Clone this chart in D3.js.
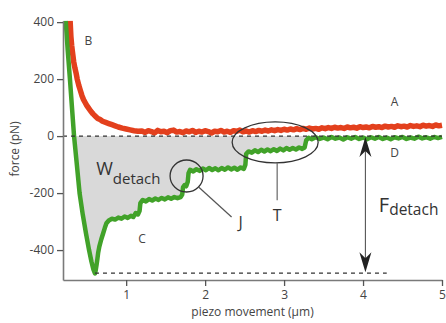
<!DOCTYPE html>
<html><head><meta charset="utf-8">
<script src="https://cdn.jsdelivr.net/npm/d3@7/dist/d3.min.js"></script>
<style>
html,body{margin:0;padding:0;background:#fff;}
svg{display:block;font-family:"Open Sans",Lato,sans-serif;}
</style></head>
<body>
<script>
// ---- data (piezo movement in µm, force in pN) ----
const xTicks = [1, 2, 3, 4, 5];
const yTicks = [-400, -200, 0, 200, 400];
const xTitle = "piezo movement (\u03bcm)";
const yTitle = "force (pN)";

const approachRed = [
[0.29,405],[0.30,350],[0.31,318],[0.32,295],[0.335,262],[0.35,240],[0.365,222],[0.38,200],[0.40,178],[0.42,160],[0.44,142],[0.46,128],[0.48,118],[0.50,108],[0.52,100],[0.55,88],[0.58,78],[0.61,70],[0.64,62],[0.67,58],[0.70,52],[0.74,48],[0.78,44],[0.82,40],[0.86,36],[0.90,32],[0.95,28],[1.00,25],[1.05,22],[1.10,19],[1.15,17],
[1.20,18],[1.24,13],[1.28,19],[1.32,16],[1.36,11],[1.40,20],[1.44,15],[1.48,17],[1.52,12],[1.56,19],[1.60,21],[1.64,14],[1.68,16],[1.72,12],[1.76,18],[1.80,15],[1.84,20],[1.88,13],[1.92,17],[1.96,14],[2.00,19],[2.04,16],[2.08,11],[2.12,17],[2.16,15],[2.20,20],[2.24,14],[2.28,17],[2.32,13],[2.36,19],[2.40,17],[2.44,21],[2.48,15],[2.52,18],[2.56,14],[2.60,19],[2.64,16],[2.68,20],[2.72,17],[2.76,21],[2.80,18],[2.84,22],[2.88,19],[2.92,23],[2.96,20],[3.00,24],[3.04,21],[3.08,25],[3.12,22],[3.16,26],[3.20,23],[3.24,27],[3.28,24],[3.32,28],[3.36,25],[3.40,27],[3.44,24],[3.48,29],[3.52,26],[3.56,30],[3.60,27],[3.64,31],[3.68,28],[3.72,30],[3.76,27],[3.80,32],[3.84,29],[3.88,31],[3.92,28],[3.96,33],[4.00,30],[4.04,32],[4.08,29],[4.12,34],[4.16,31],[4.20,33],[4.24,30],[4.28,35],[4.32,32],[4.36,34],[4.40,31],[4.44,36],[4.48,33],[4.52,35],[4.56,32],[4.60,37],[4.64,34],[4.68,36],[4.72,33],[4.76,38],[4.80,35],[4.84,37],[4.88,34],[4.92,39],[4.96,36],[5.00,38]
];

const retractGreen = [
[0.234,405],[0.26,300],[0.289,196],[0.315,95],[0.34,0],[0.37,-85],[0.41,-200],[0.45,-275],[0.49,-340],[0.53,-400],[0.56,-440],[0.585,-468],[0.605,-482],[0.615,-470],[0.625,-452],[0.635,-432],[0.645,-410],[0.66,-388],[0.685,-362],[0.71,-340],[0.73,-322],[0.75,-306],[0.78,-296],[0.82,-290],[0.86,-293],[0.90,-286],[0.94,-290],[0.98,-282],[1.02,-287],[1.06,-280],[1.09,-284],[1.12,-270],[1.15,-275],[1.17,-262],[1.18,-235],[1.21,-224],[1.25,-229],[1.29,-221],[1.33,-226],[1.37,-219],[1.41,-224],[1.45,-217],[1.49,-222],[1.53,-215],[1.57,-220],[1.61,-214],[1.65,-218],[1.69,-214],[1.71,-205],[1.72,-180],[1.74,-172],[1.76,-176],[1.78,-160],[1.79,-130],[1.81,-118],[1.85,-124],[1.89,-116],[1.93,-122],[1.97,-114],[2.01,-120],[2.05,-112],[2.09,-119],[2.13,-113],[2.17,-120],[2.21,-112],[2.25,-118],[2.29,-110],[2.33,-117],[2.37,-111],[2.41,-118],[2.45,-110],[2.49,-115],[2.51,-100],[2.52,-62],[2.55,-54],[2.59,-58],[2.63,-50],[2.67,-56],[2.71,-48],[2.75,-54],[2.79,-47],[2.83,-53],[2.87,-46],[2.91,-52],[2.95,-44],[2.99,-50],[3.03,-42],[3.07,-48],[3.11,-42],[3.15,-47],[3.19,-40],[3.23,-45],[3.26,-40],[3.28,-15],[3.31,-6],[3.35,-11],[3.40,-4],[3.45,-10],[3.50,-5],[3.55,-11],[3.60,-3],[3.65,-9],[3.70,-5],[3.75,-12],[3.80,-4],[3.85,-9],[3.90,-3],[3.95,-10],[4.00,-5],[4.05,-11],[4.10,-4],[4.15,-9],[4.20,-3],[4.25,-10],[4.30,-5],[4.35,-11],[4.40,-4],[4.45,-8],[4.50,-3],[4.55,-10],[4.60,-5],[4.65,-9],[4.70,-2],[4.75,-8],[4.80,-4],[4.85,-9],[4.90,-3],[4.95,-7],[5.00,-3]
];

const fDetach = -481;         // minimum force (pN)
const fDetachX = 4.03;        // arrow position (µm)
const minX = 0.605;           // location of minimum
const fillEndX = 3.28;        // end of shaded work area

// ---- drawing ----
const W = 446, H = 323;
const svg = d3.select("body").append("svg").attr("width", W).attr("height", H);

const x = d3.scaleLinear().domain([0.2, 5.0]).range([63, 442]);
const y = d3.scaleLinear().domain([-505, 405]).range([280, 20.7]);

svg.append("defs").append("clipPath").attr("id", "plot")
  .append("rect").attr("x", x(0.2)).attr("y", y(405)).attr("width", x(5.0) - x(0.2) + 4).attr("height", y(-505) - y(405));

const plot = svg.append("g").attr("clip-path", "url(#plot)");

// shaded work of detachment
const fillData = retractGreen.filter(d => d[0] >= 0.34 && d[0] <= fillEndX);
plot.append("path")
  .datum(fillData)
  .attr("fill", "#d9d9d9")
  .attr("d", d3.area().x(d => x(d[0])).y0(y(0)).y1(d => y(Math.min(0, d[1]))));

const line = d3.line().x(d => x(d[0])).y(d => y(d[1]));
plot.append("path").datum(approachRed)
  .attr("fill", "none").attr("stroke", "#e3401d").attr("stroke-width", 5.5).attr("stroke-linejoin", "round")
  .attr("d", line);
plot.append("path").datum(retractGreen)
  .attr("fill", "none").attr("stroke", "#41a229").attr("stroke-width", 4.5).attr("stroke-linejoin", "round")
  .attr("d", line);

// dashed reference lines
svg.append("line").attr("x1", x(0.2)).attr("x2", x(5.0)).attr("y1", y(0)).attr("y2", y(0))
  .attr("stroke", "#333").attr("stroke-width", 1.3).attr("stroke-dasharray", "4,4");
svg.append("line").attr("x1", x(minX)).attr("x2", x(4.3)).attr("y1", y(fDetach)).attr("y2", y(fDetach))
  .attr("stroke", "#333").attr("stroke-width", 1.3).attr("stroke-dasharray", "4,4");

// axes
const xAxis = svg.append("g").attr("transform", `translate(0,${y(-505)})`)
  .call(d3.axisBottom(x).tickValues(xTicks).tickSize(6).tickSizeOuter(0).tickPadding(4).tickFormat(d3.format("d")));
const yAxis = svg.append("g").attr("transform", `translate(${x(0.2)},0)`)
  .call(d3.axisLeft(y).tickValues(yTicks).tickSize(6).tickSizeOuter(0).tickPadding(3).tickFormat(d3.format("d")));
[xAxis, yAxis].forEach(a => {
  a.select(".domain").attr("stroke", "#7a7a7a").attr("stroke-width", 1.6);
  a.selectAll(".tick line").attr("stroke", "#555").attr("stroke-width", 1.3);
  a.selectAll(".tick text").attr("fill", "#444").attr("font-size", 12).attr("font-family", "'Open Sans', sans-serif");
});
yAxis.selectAll(".tick text").text(d => d < 0 ? "-" + Math.abs(d) : d);

svg.append("text").attr("x", (x(0.2) + x(5)) / 2).attr("y", 316).attr("text-anchor", "middle")
  .attr("font-size", 12).attr("fill", "#444").text(xTitle);
svg.append("text").attr("transform", `translate(19,${y(-45)}) rotate(-90)`).attr("text-anchor", "middle")
  .attr("font-size", 12).attr("fill", "#444").text(yTitle);

// curve labels
const lab = (t, xv, yv) => svg.append("text").attr("x", x(xv)).attr("y", y(yv)).attr("text-anchor", "middle")
  .attr("font-size", 12).attr("fill", "#444").text(t);
lab("B", 0.52, 320);
lab("A", 4.4, 105);
lab("D", 4.4, -72);
lab("C", 1.2, -375);

// W_detach
const wt = svg.append("text").attr("x", x(0.62)).attr("y", y(-137)).attr("fill", "#333");
wt.append("tspan").attr("font-size", 18).text("W");
wt.append("tspan").attr("font-size", 15).attr("dy", 9).text("detach");

// F_detach
const ft = svg.append("text").attr("x", x(4.2)).attr("y", y(-265)).attr("fill", "#333");
ft.append("tspan").attr("font-size", 20).text("F");
ft.append("tspan").attr("font-size", 15.5).attr("dy", 3).text("detach");

// double arrow
const ax = x(fDetachX);
svg.append("line").attr("x1", ax).attr("x2", ax).attr("y1", y(0) + 10).attr("y2", y(fDetach) - 10)
  .attr("stroke", "#555").attr("stroke-width", 1.1);
const head = "M0,0 L-6,20 L0,14 L6,20 Z";
svg.append("path").attr("d", head).attr("fill", "#222").attr("transform", `translate(${ax},${y(0) + 1})`);
svg.append("path").attr("d", head).attr("fill", "#222").attr("transform", `translate(${ax},${y(fDetach) - 1}) scale(1,-1)`);

// J annotation
const jx = x(1.765), jy = y(-140);
svg.append("ellipse").attr("cx", jx).attr("cy", jy).attr("rx", 16.5).attr("ry", 16)
  .attr("fill", "none").attr("stroke", "#333").attr("stroke-width", 1.3);
svg.append("line").attr("x1", jx + 12).attr("y1", jy + 11).attr("x2", jx + 45).attr("y2", jy + 41)
  .attr("stroke", "#555").attr("stroke-width", 1.2);
svg.append("text").attr("x", jx + 54).attr("y", jy + 52).attr("text-anchor", "middle")
  .attr("font-size", 16).attr("fill", "#333").text("J");

// T annotation
const tx = x(2.887), ty = y(-22);
svg.append("ellipse").attr("cx", tx).attr("cy", ty).attr("rx", 43).attr("ry", 20.5)
  .attr("fill", "none").attr("stroke", "#333").attr("stroke-width", 1.3);
svg.append("line").attr("x1", tx + 2).attr("x2", tx + 2).attr("y1", ty + 20.5).attr("y2", ty + 58)
  .attr("stroke", "#666").attr("stroke-width", 1.2);
svg.append("text").attr("x", tx + 2).attr("y", ty + 79).attr("text-anchor", "middle")
  .attr("font-size", 16).attr("fill", "#333").text("T");
</script>
</body></html>
